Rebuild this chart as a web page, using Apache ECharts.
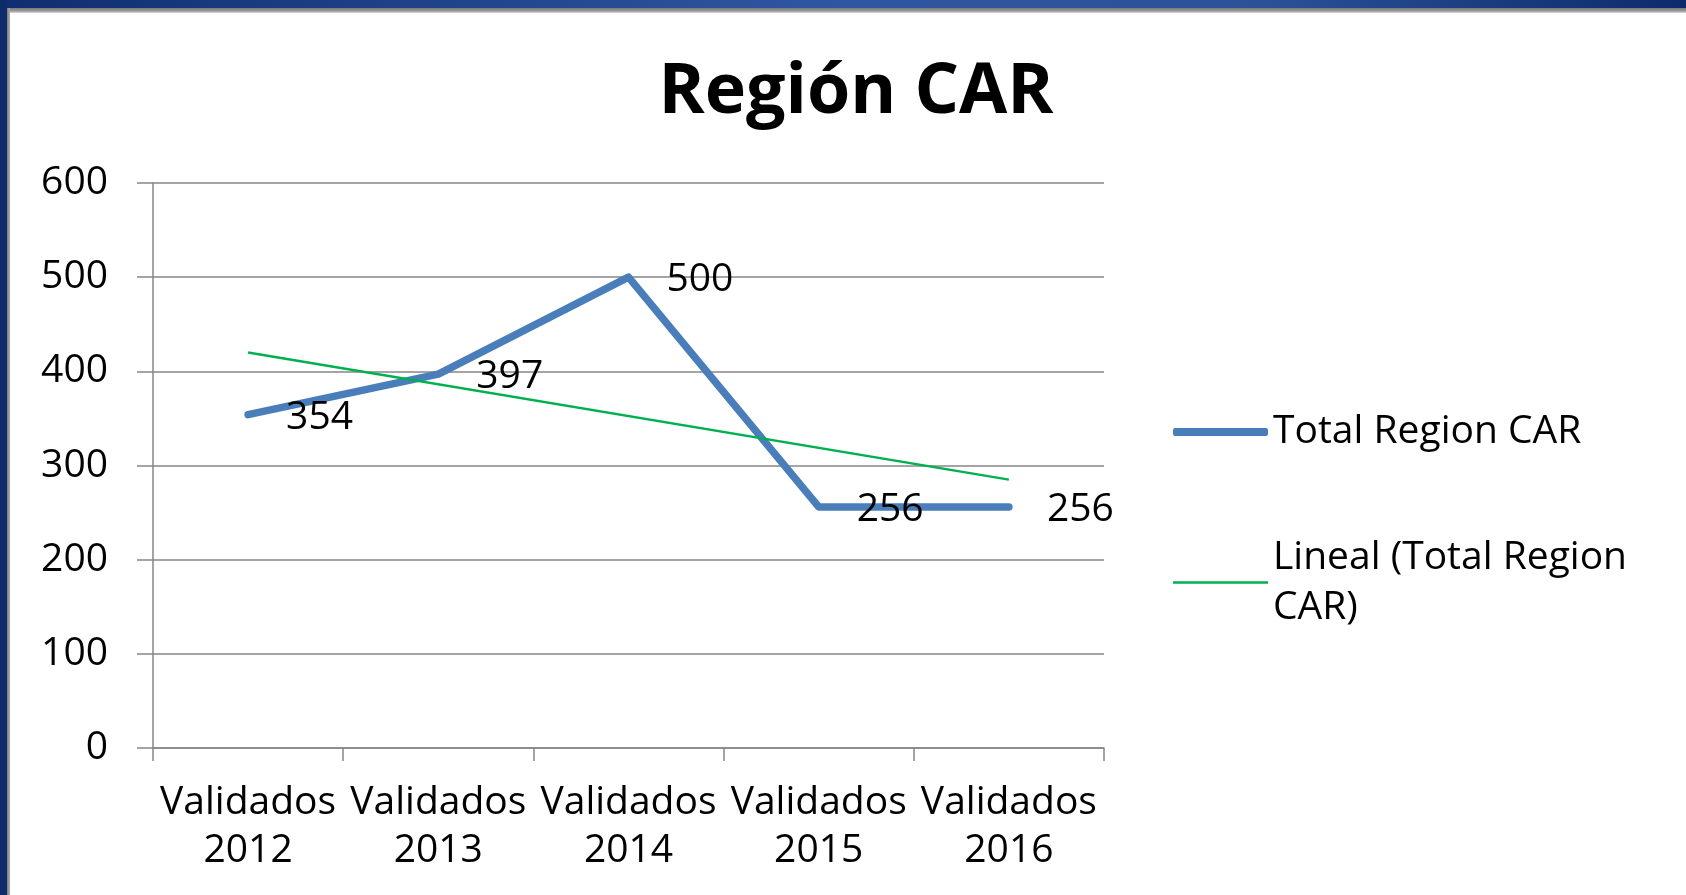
<!DOCTYPE html>
<html>
<head>
<meta charset="utf-8">
<title>Región CAR</title>
<script src="https://cdn.jsdelivr.net/npm/echarts@6/dist/echarts.min.js"></script>
<style>
  html, body { margin: 0; padding: 0; background: #fff; }
  #chart { position: absolute; left: 0; top: 0; width: 1686px; height: 895px; }
  .bar-top { position: absolute; left: 0; top: 0; width: 1686px; height: 8px; z-index: 2;
    background: linear-gradient(to right, #0f2e70 0%, #2f57a1 50%, #2b5197 75%, #0c2b6b 100%); }
  .bar-top-shadow { position: absolute; left: 0; top: 8px; width: 1686px; height: 5px; z-index: 2;
    background: linear-gradient(to bottom, #7a7a7a, #9a9a9a 60%, #dcdcdc); }
  .bar-left { position: absolute; left: 0; top: 0; width: 7px; height: 895px; z-index: 3; background: #0d2c6c; }
  .bar-left-shadow { position: absolute; left: 7px; top: 8px; width: 3px; height: 887px; z-index: 2;
    background: linear-gradient(to right, #7a7a7a, #b0b0b0); }
</style>
</head>
<body>
<div id="chart"></div>
<div class="bar-top"></div>
<div class="bar-top-shadow"></div>
<div class="bar-left"></div>
<div class="bar-left-shadow"></div>
<script>
// datos
var categories = ['Validados\n2012', 'Validados\n2013', 'Validados\n2014', 'Validados\n2015', 'Validados\n2016'];
var totalRegion = [354, 397, 500, 256, 256];
// linea de tendencia: solo los extremos
var tendencia = [420, null, null, null, 285];
var yTicks = [0, 100, 200, 300, 400, 500, 600];

var fuente = '"Open Sans", "DejaVu Sans", sans-serif';
var gris = '#868686';

var myChart = echarts.init(document.getElementById('chart'));

var option = {
    animation: false,
    backgroundColor: '#fff',
    title: {
        text: 'Región CAR',
        left: 851,
        textAlign: 'center',
        top: 53,
        textStyle: {
            fontFamily: fuente,
            fontWeight: 'bold',
            fontSize: 70,
            color: '#000'
        }
    },
    legend: {
        orient: 'vertical',
        left: 1173,
        top: 407,
        padding: 0,
        itemWidth: 95,
        itemHeight: 8,
        itemGap: 81,
        textStyle: {
            fontFamily: fuente,
            fontSize: 39,
            color: '#000',
            lineHeight: 50
        },
        data: [
            { name: 'Total Region CAR', icon: 'roundRect', itemStyle: { color: '#4a7ebb' } },
            {
                name: 'Lineal (Total Region CAR)',
                icon: 'path://M0,0 L95,0 L95,2.5 L0,2.5 Z',
                itemStyle: { color: '#00b050' },
                textStyle: { padding: [0, 0, -50, 0] }
            }
        ],
        formatter: function (name) {
            return name === 'Lineal (Total Region CAR)' ? 'Lineal (Total Region\nCAR)' : name;
        }
    },
    grid: {
        left: 153,
        right: 582,
        top: 183,
        bottom: 147
    },
    xAxis: {
        type: 'category',
        data: categories,
        boundaryGap: true,
        axisLine: { lineStyle: { color: gris, width: 1.5 } },
        axisTick: { show: true, length: 13, lineStyle: { color: gris, width: 1.5 } },
        axisLabel: {
            interval: 0,
            margin: 31,
            fontFamily: fuente,
            fontSize: 39,
            lineHeight: 48,
            color: '#000'
        }
    },
    yAxis: {
        type: 'value',
        min: yTicks[0],
        max: yTicks[yTicks.length - 1],
        interval: 100,
        axisLine: { show: true, lineStyle: { color: gris, width: 1.5 } },
        axisTick: { show: true, length: 16, lineStyle: { color: gris, width: 1.5 } },
        splitLine: { lineStyle: { color: gris, width: 1.5 } },
        axisLabel: {
            margin: 45,
            fontFamily: fuente,
            fontSize: 39,
            color: '#000'
        }
    },
    series: [
        {
            name: 'Total Region CAR',
            type: 'line',
            data: totalRegion,
            symbol: 'circle',
            symbolSize: 0,
            showSymbol: true,
            color: '#4a7ebb',
            lineStyle: { width: 7.5, color: '#4a7ebb', cap: 'round', join: 'round' },
            label: {
                show: true,
                position: 'right',
                distance: 38,
                offset: [0, 3],
                fontFamily: fuente,
                fontSize: 39,
                color: '#000'
            },
            z: 3
        },
        {
            name: 'Lineal (Total Region CAR)',
            type: 'line',
            data: tendencia,
            connectNulls: true,
            symbol: 'none',
            color: '#00b050',
            lineStyle: { width: 2.5, color: '#00b050' },
            z: 4
        }
    ]
};

myChart.setOption(option);
</script>
</body>
</html>
